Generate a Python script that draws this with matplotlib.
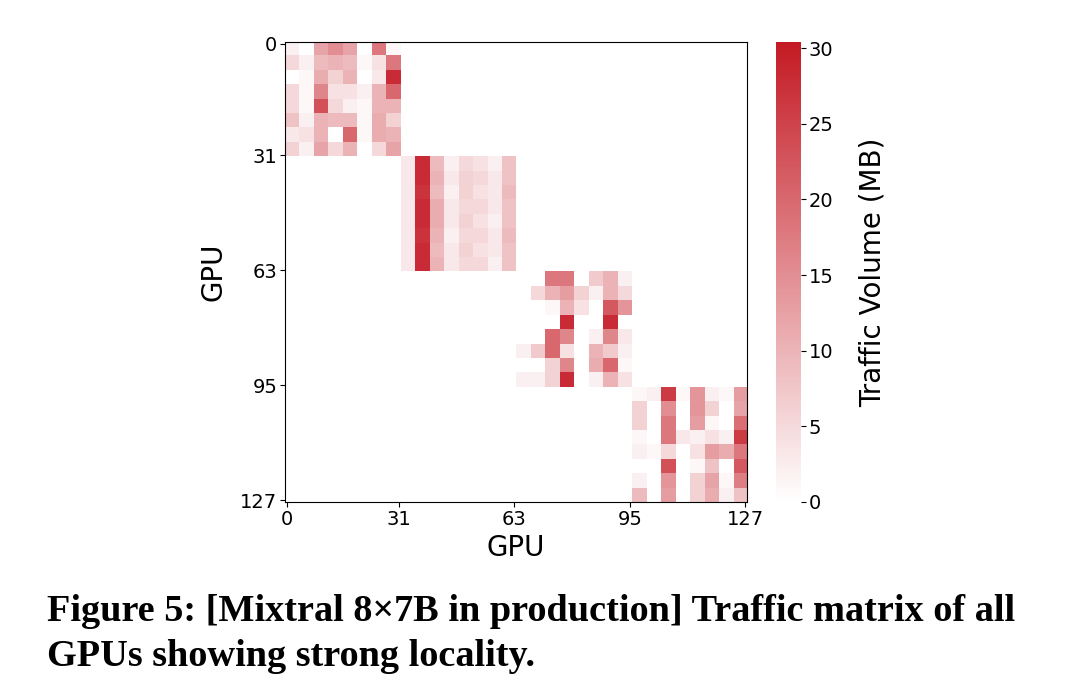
import numpy as np
import matplotlib
matplotlib.use("Agg")
import matplotlib.pyplot as plt
from matplotlib.colors import LinearSegmentedColormap

# traffic (MB) per 4x4 group of GPUs, one 8x8 block per 32-GPU node
block1 = [
    [2, 0, 12, 15, 12, 0, 18, 1],
    [5, 2, 9, 10, 9, 1, 4, 18],
    [0, 1, 11, 6, 10, 0, 3, 28],
    [5, 1, 16, 4, 4, 2, 10, 20],
    [5, 1, 23, 5, 2, 1, 10, 10],
    [8, 2, 10, 9, 9, 1, 11, 6],
    [3, 4, 10, 0, 20, 1, 11, 10],
    [6, 2, 12, 5, 10, 0, 5, 12],
]
block2 = [
    [3, 28, 9, 2, 5, 4, 2, 8],
    [3, 28, 10, 3, 6, 5, 3, 8],
    [3, 27, 9, 2, 6, 4, 3, 9],
    [3, 28, 11, 3, 5, 5, 3, 8],
    [3, 28, 11, 3, 6, 4, 2, 8],
    [3, 27, 10, 2, 5, 5, 3, 9],
    [3, 28, 9, 3, 6, 4, 3, 8],
    [3, 28, 10, 3, 5, 5, 2, 8],
]
block3 = [
    [0, 0, 18, 18, 0, 7, 10, 2],
    [0, 5, 10, 13, 6, 2, 10, 5],
    [0, 0, 1, 10, 4, 0, 22, 14],
    [0, 0, 0, 28, 0, 0, 28, 0],
    [0, 0, 20, 16, 0, 2, 16, 3],
    [2, 7, 20, 4, 0, 10, 7, 2],
    [0, 0, 6, 16, 0, 11, 20, 1],
    [2, 2, 6, 28, 0, 2, 10, 4],
]
block4 = [
    [1, 2, 26, 1, 14, 2, 1, 13],
    [6, 0, 15, 0, 14, 6, 0, 12],
    [6, 0, 18, 0, 13, 1, 0, 19],
    [1, 0, 18, 3, 2, 4, 2, 26],
    [2, 1, 5, 0, 4, 13, 11, 18],
    [0, 0, 23, 0, 1, 8, 0, 22],
    [2, 0, 14, 0, 6, 12, 1, 17],
    [9, 0, 13, 0, 6, 11, 2, 8],
]
blocks = [block1, block2, block3, block4]
tick_labels = [0, 31, 63, 95, 127]
cbar_ticks = [0, 5, 10, 15, 20, 25, 30]

coarse = np.zeros((32, 32))
for i, b in enumerate(blocks):
    coarse[i * 8:(i + 1) * 8, i * 8:(i + 1) * 8] = b
matrix = np.kron(coarse, np.ones((4, 4)))

cmap = LinearSegmentedColormap.from_list("wr", ["#ffffff", "#c41a24"])

fig = plt.figure(figsize=(10.8, 6.95), dpi=100)
ax = fig.add_axes([0.2639, 0.2777, 0.4278, 0.6619])
cax = fig.add_axes([0.7185, 0.2777, 0.0231, 0.6619])

im = ax.imshow(matrix, cmap=cmap, vmin=0, vmax=30.4, aspect="auto",
               interpolation="nearest")
ax.set_xticks(tick_labels)
ax.set_yticks(tick_labels)
ax.tick_params(labelsize=14, pad=2)
ax.set_xlabel("GPU", fontsize=20, labelpad=4)
ax.set_ylabel("GPU", fontsize=20, labelpad=9)

cb = fig.colorbar(im, cax=cax, ticks=cbar_ticks)
cb.outline.set_visible(False)
cb.ax.tick_params(labelsize=14, pad=2)
cb.set_label("Traffic Volume (MB)", fontsize=20, labelpad=18)

fig.text(47 / 1080, 1 - 621 / 695,
         "Figure 5: [Mixtral 8×7B in production] Traffic matrix of all",
         fontsize=27.5, fontweight="bold", family="Liberation Serif",
         va="baseline")
fig.text(47 / 1080, 1 - 666 / 695,
         "GPUs showing strong locality.",
         fontsize=27.5, fontweight="bold", family="Liberation Serif",
         va="baseline")

fig.savefig("out.png", dpi=100)
